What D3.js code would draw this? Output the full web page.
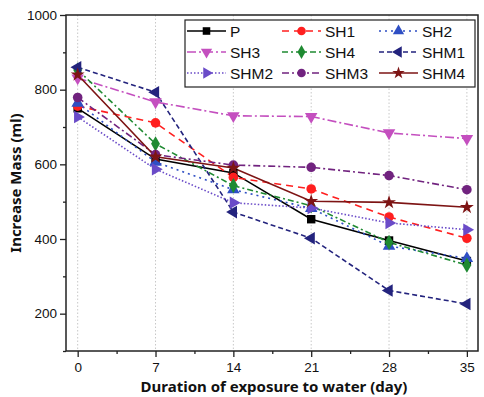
<!DOCTYPE html>
<html>
<head>
<meta charset="utf-8">
<script src="https://cdn.jsdelivr.net/npm/d3@7"></script>
<style>
  html, body { margin: 0; padding: 0; background: #fff; }
  svg { display: block; font-family: "Liberation Sans", Arial, sans-serif; }
</style>
</head>
<body>
<svg id="chart" width="484" height="397"></svg>
<script>
// Exposure days and mass increase per mix
const days = [0, 7, 14, 21, 28, 35];
const seriesNames = ["P", "SH1", "SH2", "SH3", "SH4", "SHM1", "SHM2", "SHM3", "SHM4"];
const P    = [750, 614, 577, 453, 396, 341];
const SH1  = [756, 711, 565, 534, 459, 402];
const SH2  = [764, 606, 532, 482, 381, 348];
const SH3  = [831, 767, 730, 728, 684, 669];
const SH4  = [853, 655, 543, 489, 391, 330];
const SHM1 = [860, 793, 472, 402, 262, 226];
const SHM2 = [727, 587, 497, 483, 443, 425];
const SHM3 = [779, 626, 598, 592, 570, 532];
const SHM4 = [840, 620, 590, 501, 498, 485];
const yTicks = [200, 400, 600, 800, 1000];

const values = { P, SH1, SH2, SH3, SH4, SHM1, SHM2, SHM3, SHM4 };

// Appearance of each series: colour, dash pattern, marker
const styles = {
  P:    { color: "#000000", dash: null,        marker: "square" },
  SH1:  { color: "#ff1f1f", dash: "7,5",       marker: "circle" },
  SH2:  { color: "#2f4fc4", dash: "2,4",       marker: "triUp" },
  SH3:  { color: "#c44fbf", dash: "9,3,2,3",   marker: "triDown" },
  SH4:  { color: "#1f8a32", dash: "6,3,2,3",   marker: "diamond" },
  SHM1: { color: "#23237d", dash: "5,3",       marker: "triLeft" },
  SHM2: { color: "#6a4bc8", dash: "1.5,2",     marker: "triRight" },
  SHM3: { color: "#71237f", dash: "7,3,2,3",   marker: "circle" },
  SHM4: { color: "#7d1414", dash: null,        marker: "star" }
};

const svg = d3.select("#chart");
const plotL = 66, plotR = 478, plotT = 15, plotB = 351;

const x = d3.scaleLinear().domain([-1.05, 36]).range([plotL, plotR]);
const y = d3.scaleLinear().domain([100, 1000]).range([plotB, plotT]);

// vertical dotted grid lines at each day
svg.append("g").selectAll("line").data(days).join("line")
  .attr("x1", d => x(d)).attr("x2", d => x(d))
  .attr("y1", plotT).attr("y2", plotB)
  .attr("stroke", "#c8c8c8").attr("stroke-width", 1)
  .attr("stroke-dasharray", "1.5,2");

// axes
const xAxis = svg.append("g").attr("transform", `translate(0,${plotB})`)
  .call(d3.axisBottom(x).tickValues(days).tickFormat(d3.format("d")).tickSize(6).tickSizeOuter(0).tickPadding(5));
const xMinor = svg.append("g").attr("transform", `translate(0,${plotB})`)
  .call(d3.axisBottom(x).tickValues(d3.range(3.5, 35, 7)).tickSize(3).tickFormat("").tickSizeOuter(0));
const yAxis = svg.append("g").attr("transform", `translate(${plotL},0)`)
  .call(d3.axisLeft(y).tickValues(yTicks).tickFormat(d3.format("d")).tickSize(6).tickSizeOuter(0).tickPadding(3));
const yMinor = svg.append("g").attr("transform", `translate(${plotL},0)`)
  .call(d3.axisLeft(y).tickValues(d3.range(100, 1000, 200)).tickSize(3).tickFormat("").tickSizeOuter(0));

[xAxis, xMinor, yAxis, yMinor].forEach(g => {
  g.select(".domain").remove();
  g.selectAll("line").attr("stroke", "#222").attr("stroke-width", 1.3);
  g.selectAll("text").attr("font-size", 13.5).attr("fill", "#111")
    .attr("font-family", "'Liberation Sans', Arial, sans-serif");
});

// plot frame
svg.append("rect")
  .attr("x", plotL).attr("y", plotT)
  .attr("width", plotR - plotL).attr("height", plotB - plotT)
  .attr("fill", "none").attr("stroke", "#222").attr("stroke-width", 1.5);

// axis titles
svg.append("text")
  .attr("x", (plotL + plotR) / 2 + 2).attr("y", 392)
  .attr("text-anchor", "middle").attr("font-size", 15).attr("font-weight", "bold")
  .attr("fill", "#111").attr("font-family", "'Noto Sans', 'Liberation Sans', sans-serif")
  .text("Duration of exposure to water (day)");

svg.append("text")
  .attr("transform", `translate(21,${(plotT + plotB) / 2}) rotate(-90)`)
  .attr("text-anchor", "middle").attr("font-size", 15).attr("font-weight", "bold")
  .attr("fill", "#111").attr("font-family", "'Noto Sans', 'Liberation Sans', sans-serif")
  .text("Increase Mass (ml)");

// marker shapes
function drawMarker(g, kind, color, size) {
  const s = size || 1;
  const triPath = d3.symbol().type(d3.symbolTriangle).size(68 * s * s)();
  switch (kind) {
    case "square":
      g.append("rect").attr("x", -4.2 * s).attr("y", -4.2 * s).attr("width", 8.4 * s).attr("height", 8.4 * s)
        .attr("fill", color); break;
    case "circle":
      g.append("circle").attr("r", 4.8 * s).attr("fill", color); break;
    case "diamond":
      g.append("path").attr("d", d3.symbol().type(d3.symbolDiamond).size(68 * s * s)())
        .attr("fill", color); break;
    case "star":
      g.append("path").attr("d", d3.symbol().type(d3.symbolStar).size(60 * s * s)())
        .attr("fill", color); break;
    case "triUp":
      g.append("path").attr("d", triPath).attr("fill", color); break;
    case "triDown":
      g.append("path").attr("d", triPath).attr("transform", "rotate(180)").attr("fill", color); break;
    case "triLeft":
      g.append("path").attr("d", triPath).attr("transform", "rotate(-90)").attr("fill", color); break;
    case "triRight":
      g.append("path").attr("d", triPath).attr("transform", "rotate(90)").attr("fill", color); break;
  }
}

// series lines and markers
const line = d3.line().x((d, i) => x(days[i])).y(d => y(d));
seriesNames.forEach(name => {
  const st = styles[name];
  svg.append("path")
    .datum(values[name])
    .attr("d", line)
    .attr("fill", "none")
    .attr("stroke", st.color)
    .attr("stroke-width", 1.6)
    .attr("stroke-dasharray", st.dash);
});
seriesNames.forEach(name => {
  const st = styles[name];
  values[name].forEach((v, i) => {
    const g = svg.append("g").attr("transform", `translate(${x(days[i])},${y(v)})`);
    drawMarker(g, st.marker, st.color, 1);
  });
});

// legend
const legend = svg.append("g");
legend.append("rect")
  .attr("x", 185).attr("y", 20).attr("width", 290).attr("height", 67)
  .attr("fill", "#fff").attr("stroke", "#222").attr("stroke-width", 1.2);
const colX = [187, 282, 379];
const rowY = [31, 52, 73];
seriesNames.forEach((name, k) => {
  const st = styles[name];
  const cx = colX[k % 3], cy = rowY[Math.floor(k / 3)];
  const item = legend.append("g").attr("transform", `translate(${cx},${cy})`);
  item.append("line").attr("x1", 0).attr("x2", 39).attr("y1", 0).attr("y2", 0)
    .attr("stroke", st.color).attr("stroke-width", 1.6).attr("stroke-dasharray", st.dash);
  drawMarker(item.append("g").attr("transform", "translate(19.5,0)"), st.marker, st.color, 0.9);
  item.append("text").attr("x", 43).attr("y", 5.8)
    .attr("font-size", 15.5).attr("fill", "#111").text(name);
});
</script>
</body>
</html>
